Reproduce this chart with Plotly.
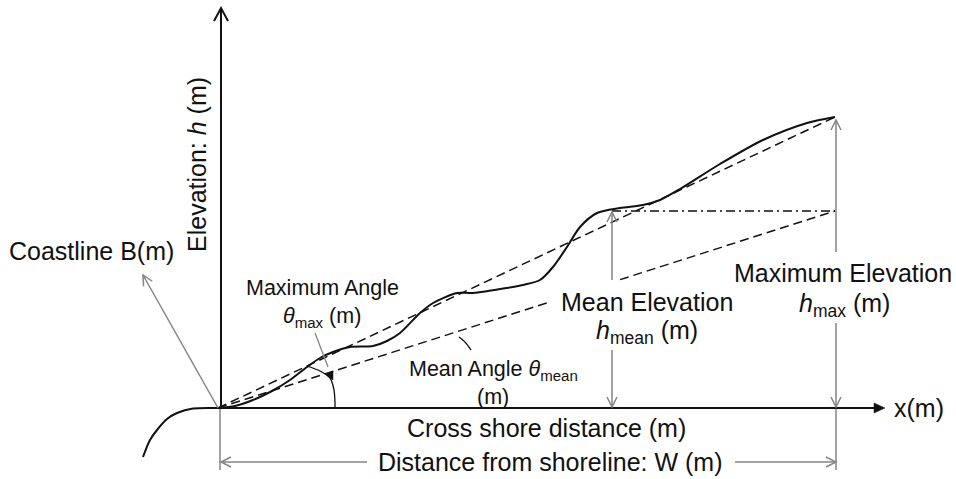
import math
import plotly.graph_objects as go

# ---- schematic data (units: drawing units, origin at the shoreline) ----
profile_x = [0, 17, 35, 54, 72, 89, 102, 115, 132, 155, 169, 182, 202, 215, 239, 255, 289,
             305, 322, 335, 349, 362, 379, 402, 425, 442, 462, 502, 545, 589, 617]
profile_h = [0, 2, 8, 17, 28, 41, 50, 56, 61, 62, 67, 75, 95, 105, 115, 115, 120,
             123, 128, 141, 161, 181, 195, 200, 203, 208, 219, 244, 268, 285, 291]
coast_x = [-75, -68, -61, -51, -41, -25, 0]
coast_h = [-49, -32, -22, -11, -5, -0.5, 0]

W = 617          # distance from shoreline
H_MAX = 291      # maximum elevation
H_MEAN = 197     # mean elevation
X_AXIS_END = 667
Y_AXIS_END = 400
mean_gap = [329, 402]          # gap in the mean-angle line (label area)
hmean_x = 394                  # position of the mean elevation arrow
hmean_gap = [58, 128]          # gap in the mean elevation arrow (label area)
hmax_gap = [85, 156]           # gap in the max elevation arrow (label area)
w_gap = [149, 517]             # gap in the W dimension line (label area)
W_LINE_Y = -54

max_arc_x = [89, 102, 112, 116, 117, 117]
max_arc_h = [42, 37, 30, 18, 5, 0]
mean_tick_x = [241, 247, 253]
mean_tick_h = [71, 66, 58]

BLACK = "#111111"
GREY = "#858585"
FONT = "Liberation Sans, Arial, sans-serif"

fig = go.Figure()
shapes = []
ann = []


def line(xs, ys, color=BLACK, width=1.5, dash="solid", shape="linear"):
    fig.add_trace(go.Scatter(x=xs, y=ys, mode="lines", hoverinfo="skip",
                             line=dict(color=color, width=width, dash=dash, shape=shape,
                                       smoothing=0.8 if shape == "spline" else None)))


def arrow(x0, y0, x1, y1, color=GREY, width=1.5, kind="open", length=10, half=5):
    """Line from (x0,y0) to the tip (x1,y1) with an arrowhead at the tip."""
    dx, dy = x1 - x0, y1 - y0
    L = math.hypot(dx, dy)
    ux, uy = dx / L, dy / L
    nx, ny = -uy, ux
    bx, by = x1 - ux * length, y1 - uy * length
    p1 = (bx + nx * half, by + ny * half)
    p2 = (bx - nx * half, by - ny * half)
    if kind == "filled":
        ex, ey = bx + ux * 2, by + uy * 2
        shapes.append(dict(type="line", x0=x0, y0=y0, x1=ex, y1=ey, xref="x", yref="y",
                           line=dict(color=color, width=width)))
        shapes.append(dict(type="path", xref="x", yref="y",
                           path=f"M{p1[0]},{p1[1]} L{x1},{y1} L{p2[0]},{p2[1]} Z",
                           fillcolor=color, line=dict(color=color, width=0.5)))
    else:
        shapes.append(dict(type="line", x0=x0, y0=y0, x1=x1, y1=y1, xref="x", yref="y",
                           line=dict(color=color, width=width)))
        shapes.append(dict(type="path", xref="x", yref="y",
                           path=f"M{p1[0]},{p1[1]} L{x1},{y1} L{p2[0]},{p2[1]}",
                           line=dict(color=color, width=width)))


def label(x, y, text, size=25, angle=0):
    ann.append(dict(x=x, y=y, xref="x", yref="y", text=text, showarrow=False,
                    textangle=angle, font=dict(family=FONT, size=size, color=BLACK),
                    xanchor="center", yanchor="middle"))


# slope lines
line([0, W], [0, H_MAX], dash="9px,5px", width=1.5)
line([0, mean_gap[0]], [0, H_MEAN * mean_gap[0] / W], dash="9px,5px", width=1.5)
line([mean_gap[1], W], [H_MEAN * mean_gap[1] / W, H_MEAN], dash="9px,5px", width=1.5)
# mean elevation level (dash-dot)
line([hmean_x, W], [H_MEAN, H_MEAN], dash="9px,4px,2px,4px", width=1.3)

# profile and coastline
line(profile_x, profile_h, width=2, shape="spline")
line(coast_x, coast_h, width=2, shape="spline")

# extension lines
line([2, 2], [0, -62], color=GREY, width=1.5)
line([W + 1, W + 1], [0, -62], color=GREY, width=1.5)

# angle marks
line(max_arc_x, max_arc_h, width=1.3, shape="spline")
line(mean_tick_x, mean_tick_h, width=1.3, shape="spline")
line([97, 110], [75, 41], color=GREY, width=1.3)

# axes
arrow(0, 0, X_AXIS_END, 0, color=BLACK, width=2, kind="filled", length=11, half=5)
arrow(3, 0, 3, Y_AXIS_END, color=BLACK, width=2, kind="open", length=13, half=7)

# coastline arrow
arrow(0, 0, -75, 133)
# mean elevation arrows
arrow(hmean_x, hmean_gap[1], hmean_x, H_MEAN - 1)
arrow(hmean_x, hmean_gap[0], hmean_x, 1)
# max elevation arrows
arrow(W + 1, hmax_gap[1], W + 1, H_MAX - 3)
arrow(W + 1, hmax_gap[0], W + 1, 1)
# distance W arrows
arrow(w_gap[0], W_LINE_Y, 3, W_LINE_Y)
arrow(w_gap[1], W_LINE_Y, W + 1, W_LINE_Y)
# max angle arrowhead
arrow(112, 34, 115, 28, color=BLACK, width=1.2, kind="filled", length=8, half=4)

# labels
label(-127, 157, "Coastline B(m)")
label(-21, 243, "Elevation: <i>h</i> (m)", angle=-90)
label(104, 120, "Maximum Angle", size=21.5)
label(104, 91, "<i>θ</i><sub>max</sub> (m)", size=21.5)
label(275, 38, "Mean Angle <i>θ</i><sub>mean</sub>", size=21.5)
label(275, 11, "(m)", size=21.5)
label(429, 106, "Mean Elevation")
label(429, 76, "<i>h</i><sub>mean</sub> (m)")
label(625, 135, "Maximum Elevation")
label(626, 103, "<i>h</i><sub>max</sub> (m)")
label(701, 0, "x(m)")
label(328, -20, "Cross shore distance (m)")
label(332, -54, "Distance from shoreline: W (m)")

fig.update_layout(
    width=956, height=479, margin=dict(l=0, r=0, t=0, b=0),
    paper_bgcolor="white", plot_bgcolor="white", showlegend=False,
    xaxis=dict(range=[-218, 738], visible=False, fixedrange=True),
    yaxis=dict(range=[-71, 408], visible=False, fixedrange=True),
    annotations=ann, shapes=shapes,
)

fig.write_html("out.html")
